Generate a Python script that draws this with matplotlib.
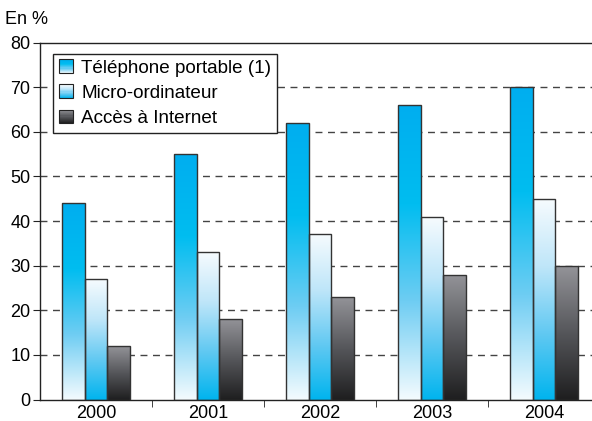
import numpy as np
import matplotlib
matplotlib.use('Agg')
import matplotlib.pyplot as plt
from matplotlib.colors import LinearSegmentedColormap
from matplotlib.patches import Rectangle
from matplotlib.legend_handler import HandlerBase

plt.rcParams['font.family'] = ['Liberation Sans', 'DejaVu Sans']

years = ['2000', '2001', '2002', '2003', '2004']
telephone = [44, 55, 62, 66, 70]
micro = [27, 33, 37, 41, 45]
internet = [12, 18, 23, 28, 30]
series_names = ['Téléphone portable (1)', 'Micro-ordinateur', 'Accès à Internet']

# gradients go from bottom (0) to top (1)
cmap_tel = LinearSegmentedColormap.from_list('tel', ['#f4fbfe', '#6fcdf3', '#00bdf0', '#00aeef'])
cmap_micro = LinearSegmentedColormap.from_list('micro', ['#00b4ee', '#62c9f2', '#bfe6f9', '#f6fbfe'])
cmap_net = LinearSegmentedColormap.from_list('net', ['#1e1e1f', '#55565a', '#939398'])
cmaps = [cmap_tel, cmap_micro, cmap_net]

fig = plt.figure(figsize=(5.92, 4.21), dpi=100)
ax = fig.add_axes([40 / 592, 1 - 399.5 / 421, 560 / 592, 357 / 421])

x = np.arange(len(years))
width = 0.2
grad = np.linspace(0, 1, 256).reshape(-1, 1)

for i, (vals, cm) in enumerate(zip([telephone, micro, internet], cmaps)):
    bars = ax.bar(x + (i - 1) * width, vals, width, facecolor='none',
                  edgecolor='#333333', linewidth=1.0, zorder=3)
    for b in bars:
        x0, y0 = b.get_x(), b.get_y()
        w, h = b.get_width(), b.get_height()
        im = ax.imshow(grad, cmap=cm, origin='lower', aspect='auto',
                       extent=[x0, x0 + w, y0, y0 + h], zorder=2)
        im.set_clip_path(b)

ax.set_xlim(-0.5, 4.5)
ax.set_ylim(0, 80)
ax.set_yticks(range(0, 81, 10))
ax.set_xticks(x)
ax.set_xticklabels(years)
ax.set_xticks(np.arange(0.5, 4.5, 1), minor=True)
ax.tick_params(axis='x', which='major', length=0, pad=4, labelsize=13)
ax.tick_params(axis='x', which='minor', length=5, direction='out', color='#222222')
ax.tick_params(axis='y', length=5, direction='out', labelsize=13, pad=2, color='#222222')

for v in range(10, 80, 10):
    ax.axhline(v, color='#444444', linestyle=(0, (5, 4)), linewidth=1.0, zorder=1)

ax.spines['right'].set_visible(False)
for s in ['left', 'top', 'bottom']:
    ax.spines[s].set_color('#222222')
    ax.spines[s].set_linewidth(1.0)


class GradientHandler(HandlerBase):
    def __init__(self, cm):
        super().__init__()
        self.cm = cm

    def create_artists(self, legend, orig_handle, xdescent, ydescent, width, height, fontsize, trans):
        size = height * 1.05
        x0 = -xdescent + (width - size) / 2
        y0 = -ydescent + (height - size) / 2
        arts = []
        n = 12
        for k in range(n):
            r = Rectangle((x0, y0 + size * k / n), size, size / n,
                          facecolor=self.cm((k + 0.5) / n), edgecolor='none', transform=trans)
            arts.append(r)
        arts.append(Rectangle((x0, y0), size, size, facecolor='none',
                              edgecolor='#222222', linewidth=0.8, transform=trans))
        return arts


handles = [Rectangle((0, 0), 1, 1) for _ in cmaps]
leg = ax.legend(handles, series_names, loc='upper left', bbox_to_anchor=(0.023, 0.968),
                handler_map={h: GradientHandler(c) for h, c in zip(handles, cmaps)},
                fontsize=13.6, frameon=True, fancybox=False, edgecolor='#222222',
                framealpha=1, handlelength=0.8, handletextpad=0.4, labelspacing=0.42,
                borderpad=0.3, borderaxespad=0)
leg.get_frame().set_linewidth(1.0)
leg.set_zorder(5)

fig.text(5 / 592, 1 - 19 / 421, 'En %', fontsize=13, va='center', ha='left')

fig.savefig('out.png', dpi=100)
